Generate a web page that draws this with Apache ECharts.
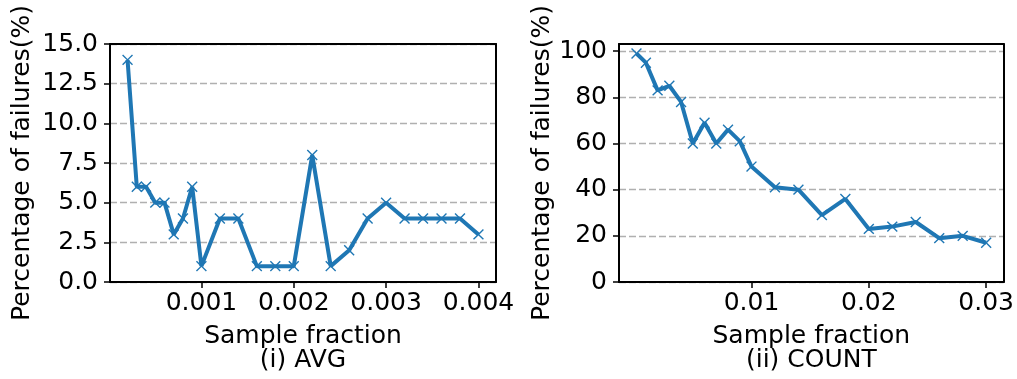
<!DOCTYPE html>
<html>
<head>
<meta charset="utf-8">
<script src="https://cdn.jsdelivr.net/npm/echarts@6/dist/echarts.min.js"></script>
<style>
html,body{margin:0;padding:0;background:#fff;}
#chart{width:1017px;height:379px;}
</style>
</head>
<body>
<div id="chart"></div>
<script>
// ---- Data ----
const avgX = [0.0002,0.0003,0.0004,0.0005,0.0006,0.0007,0.0008,0.0009,0.001,0.0012,0.0014,0.0016,0.0018,0.002,0.0022,0.0024,0.0026,0.0028,0.003,0.0032,0.0034,0.0036,0.0038,0.004];
const avgY = [14,6,6,5,5,3,4,6,1,4,4,1,1,1,8,1,2,4,5,4,4,4,4,3];
const countX = [0.0002,0.001,0.002,0.003,0.004,0.005,0.006,0.007,0.008,0.009,0.01,0.012,0.014,0.016,0.018,0.02,0.022,0.024,0.026,0.028,0.03];
const countY = [99,95,83,85,78,60,69,60,66,61,50,41,40,29,36,23,24,26,19,20,17];
const avgXTicks = [0.001,0.002,0.003,0.004];
const countXTicks = [0.01,0.02,0.03];
const avgYTicks = [0,2.5,5,7.5,10,12.5,15];
const countYTicks = [0,20,40,60,80,100];
const yTitle = 'Percentage of failures(%)';
const xTitle = 'Sample fraction';
const subTitles = ['(i) AVG','(ii) COUNT'];

const FONT = 'DejaVu Sans';
const BLUE = '#1f77b4';
const xMarker = 'path://M45,0 H55 V45 H100 V55 H55 V100 H45 V55 H0 V45 H45 Z';

function pairs(xs, ys){ return xs.map((x,i)=>[x, ys[i]]); }

function xAxisMain(grid, min, max, ticks, sub){
  return {
    gridIndex: grid, type: 'value', position: 'bottom', min: min, max: max, z: 5,
    axisLine: {show: true, onZero: false, lineStyle: {color: '#000', width: 2}},
    axisTick: {show: true, length: 6, customValues: ticks, lineStyle: {color: '#000', width: 1.5}},
    axisLabel: {show: true, customValues: ticks, margin: 9, fontSize: 25, fontFamily: FONT, color: '#000',
      formatter: v => String(v)},
    splitLine: {show: false},
    name: xTitle + '\n' + sub, nameLocation: 'middle', nameGap: 42,
    nameTextStyle: {fontSize: 25, fontFamily: FONT, color: '#000', lineHeight: 24}
  };
}
function xAxisFrame(grid, min, max){
  return {
    gridIndex: grid, type: 'value', position: 'top', min: min, max: max, z: 5,
    axisLine: {show: true, onZero: false, lineStyle: {color: '#000', width: 2}},
    axisTick: {show: false}, axisLabel: {show: false}, splitLine: {show: false}
  };
}
function yAxisMain(grid, min, max, ticks, fmt, gap){
  return {
    gridIndex: grid, type: 'value', position: 'left', min: min, max: max, z: 0,
    axisLine: {show: true, onZero: false, lineStyle: {color: '#000', width: 2}},
    axisTick: {show: true, length: 6, customValues: ticks, lineStyle: {color: '#000', width: 1.5}},
    axisLabel: {show: true, customValues: ticks, margin: 12, fontSize: 25, fontFamily: FONT, color: '#000', formatter: fmt},
    splitLine: {show: true, lineStyle: {type: [7,3], color: '#b0b0b0', width: 1.3}},
    name: yTitle, nameLocation: 'middle', nameGap: gap, nameRotate: 90,
    nameTextStyle: {fontSize: 25, fontFamily: FONT, color: '#000'}
  };
}
function yAxisFrame(grid, min, max){
  return {
    gridIndex: grid, type: 'value', position: 'right', min: min, max: max, z: 5,
    axisLine: {show: true, onZero: false, lineStyle: {color: '#000', width: 2}},
    axisTick: {show: false}, axisLabel: {show: false}, splitLine: {show: false}
  };
}
function lineSeries(xi, yi, data){
  return {
    type: 'line', xAxisIndex: xi, yAxisIndex: yi, data: data,
    lineStyle: {color: BLUE, width: 4}, itemStyle: {color: BLUE},
    symbol: xMarker, symbolSize: 14, symbolRotate: 45, showSymbol: true,
    clip: false, animation: false
  };
}

const chart = echarts.init(document.getElementById('chart'), null, {renderer: 'canvas'});
chart.setOption({
  animation: false,
  backgroundColor: '#fff',
  grid: [
    {left: 110, top: 44, width: 386, height: 238},
    {left: 619, top: 44, width: 386, height: 238}
  ],
  xAxis: [
    xAxisMain(0, 0.00001, 0.00419, avgXTicks, subTitles[0]),
    xAxisFrame(0, 0.00001, 0.00419),
    xAxisMain(1, -0.00129, 0.03149, countXTicks, subTitles[1]),
    xAxisFrame(1, -0.00129, 0.03149)
  ],
  yAxis: [
    yAxisMain(0, 0, 15, avgYTicks, v => v.toFixed(1), 75),
    yAxisFrame(0, 0, 15),
    yAxisMain(1, 0, 103.1, countYTicks, v => String(Math.round(v)), 64),
    yAxisFrame(1, 0, 103.1)
  ],
  series: [
    lineSeries(0, 0, pairs(avgX, avgY)),
    lineSeries(2, 2, pairs(countX, countY))
  ]
});
</script>
</body>
</html>
